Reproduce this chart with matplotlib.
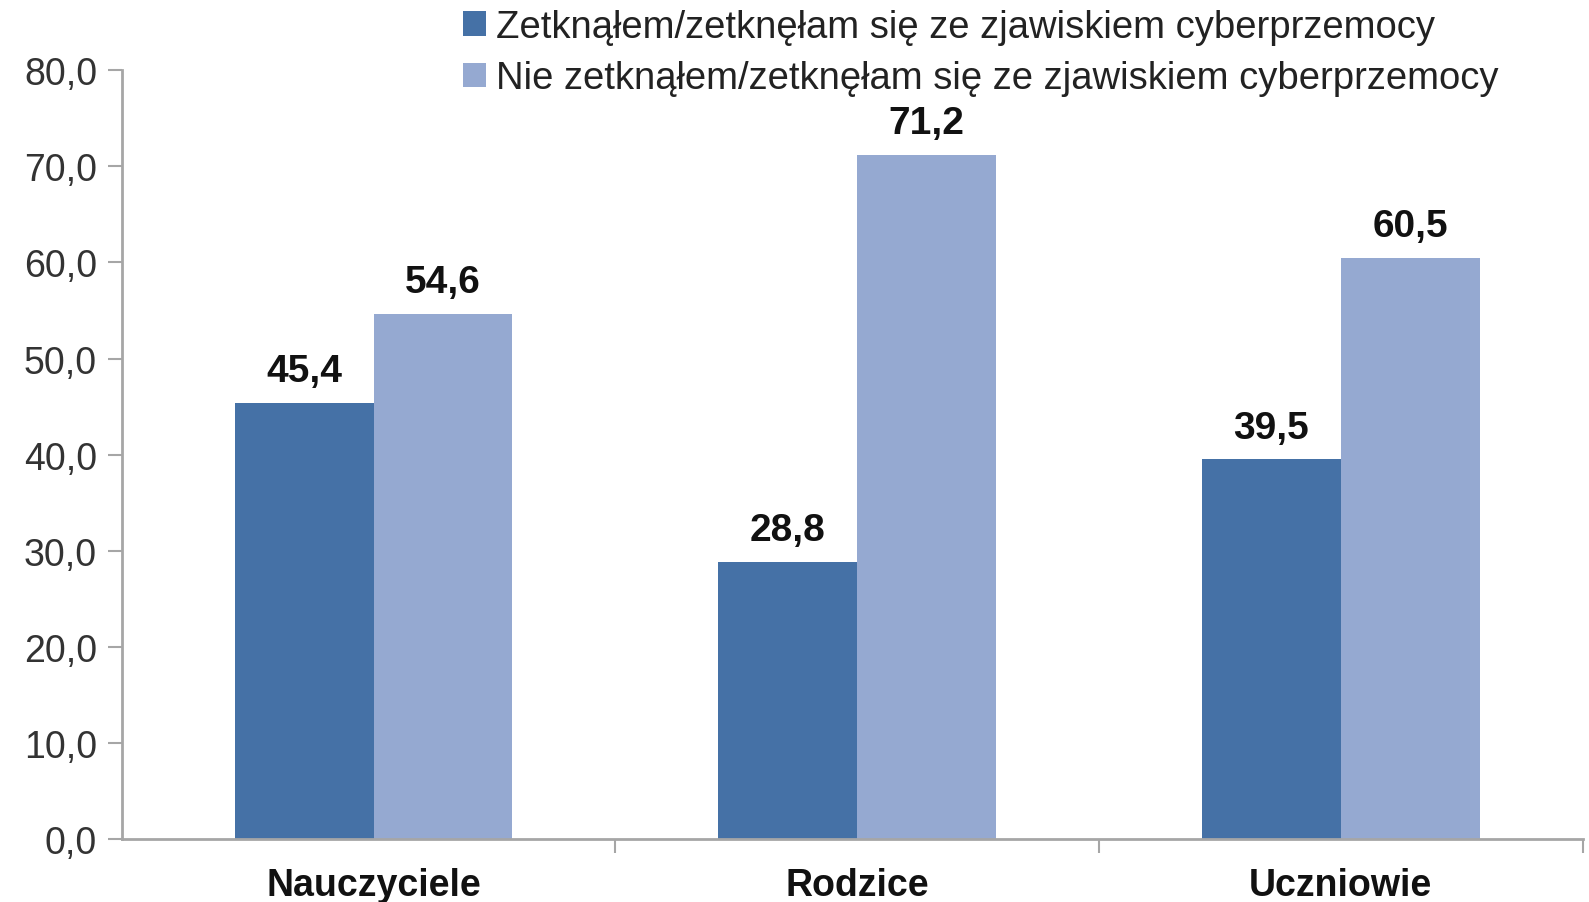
import numpy as np
import matplotlib
matplotlib.use("Agg")
import matplotlib.pyplot as plt

# data
categories = ["Nauczyciele", "Rodzice", "Uczniowie"]
series_names = ["Zetknąłem/zetknęłam się ze zjawiskiem cyberprzemocy",
                "Nie zetknąłem/zetknęłam się ze zjawiskiem cyberprzemocy"]
met = [45.4, 28.8, 39.5]
not_met = [54.6, 71.2, 60.5]
yticks = [0, 10, 20, 30, 40, 50, 60, 70, 80]

plt.rcParams['font.family'] = ['Liberation Sans', 'DejaVu Sans']

dark = '#4571a6'
light = '#95a9d1'
axis_col = '#a6a6a6'

fig = plt.figure(figsize=(15.89, 9.03), dpi=100)
ax = fig.add_axes([0.0768, 0.0698, 0.9192, 0.8512])

x = np.arange(len(categories))
w = 0.287
b1 = ax.bar(x - w / 2, met, w, color=dark, label=series_names[0])
b2 = ax.bar(x + w / 2, not_met, w, color=light, label=series_names[1])

for bars, vals in ((b1, met), (b2, not_met)):
    for rect, v in zip(bars, vals):
        ax.annotate(f"{v:.1f}".replace('.', ','),
                    (rect.get_x() + rect.get_width() / 2, rect.get_height()),
                    xytext=(0, 10), textcoords='offset points',
                    ha='center', va='bottom', fontsize=28, fontweight='bold',
                    color='#111111')

ax.set_ylim(0, 80)
ax.set_xlim(-0.52, 2.5)
ax.set_yticks(yticks)
ax.set_yticklabels([f"{t:.1f}".replace('.', ',') for t in yticks],
                   fontsize=27, color='#333333')
ax.tick_params(axis='y', length=10, width=1.5, color=axis_col, pad=8)

ax.set_xticks(x)
ax.set_xticklabels(categories, fontsize=27, fontweight='bold', color='#111111')
ax.tick_params(axis='x', length=0, pad=20)
ax.set_xticks([0.5, 1.5, 2.5], minor=True)
ax.tick_params(axis='x', which='minor', length=10, width=1.5, color=axis_col)

for s in ['top', 'right']:
    ax.spines[s].set_visible(False)
for s in ['left', 'bottom']:
    ax.spines[s].set_color(axis_col)
    ax.spines[s].set_linewidth(2)

leg = fig.legend(handles=[b1, b2], loc='upper left', bbox_to_anchor=(0.270, 1.027),
                 frameon=False, fontsize=27.5, handlelength=0.6, handleheight=0.6,
                 handletextpad=0.25, labelspacing=0.4)
for t in leg.get_texts():
    t.set_color('#222222')

fig.savefig('out.png', dpi=100)
